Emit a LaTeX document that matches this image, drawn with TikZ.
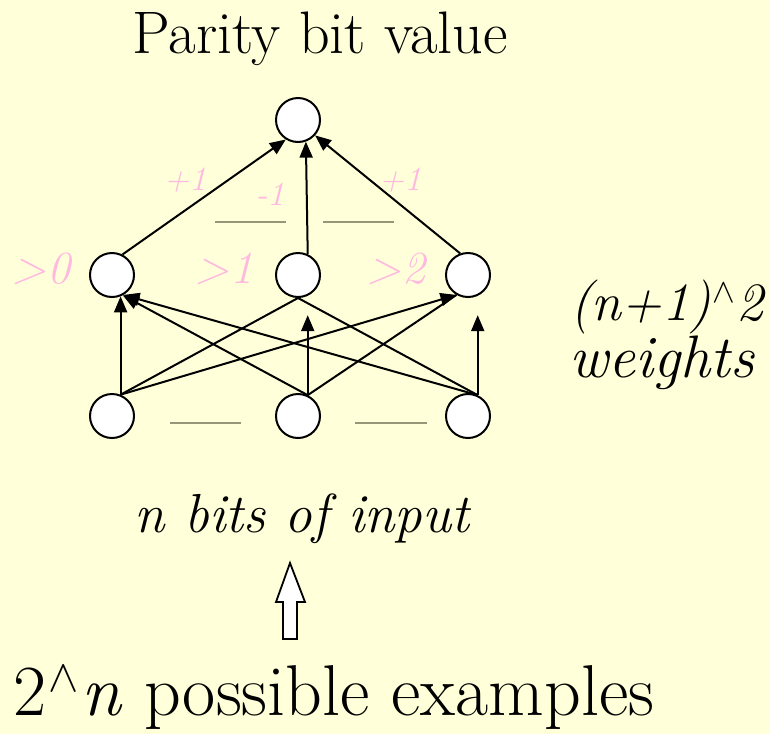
\documentclass[tikz,border=0pt]{standalone}
\usetikzlibrary{arrows.meta, calc}
\definecolor{bgyellow}{RGB}{255,255,217}
\definecolor{labelpink}{RGB}{255,185,225}
\definecolor{rulegrey}{RGB}{150,150,120}
\newcommand{\hatmark}{\kern0.03em\raisebox{0.33em}{\resizebox{0.42em}{!}{$\wedge$}}\kern0.03em}
\tikzset{
  unit/.style={circle, draw, line width=2pt, fill=white, minimum size=44pt, inner sep=0pt},
  wire/.style={line width=2pt},
  arr/.style={wire, -{Triangle[length=16pt, width=13pt]}},
  thresh/.style={text=labelpink, font=\fontsize{46}{52}\selectfont\itshape, anchor=base},
  weight/.style={text=labelpink, font=\fontsize{34}{40}\selectfont\itshape, anchor=base},
  caption/.style={font=\fontsize{60}{70}\selectfont, anchor=base},
  gap/.style={draw=rulegrey, line width=2pt}
}
\begin{document}
\begin{tikzpicture}[x=1pt, y=-1pt]
			\fill[bgyellow] (0, 0) rectangle (770, 734);
			\useasboundingbox (0, 0) rectangle (770, 734);
			\node[caption](Top) at (320, 53){Parity bit value};
			\node[unit](Out) at (298, 120){};
			\node[unit](H1) at (112, 275){};
			\node[unit](H2) at (298, 275){};
			\node[unit](H3) at (468, 275){};
			\node[unit](I1) at (112, 416){};
			\node[unit](I2) at (298, 416){};
			\node[unit](I3) at (468, 416){};
			\draw[arr] (H1.63) -- (Out.238);
			\draw[arr] (H2.65) -- (Out.290);
			\draw[arr] (H3.110) -- (Out.318);
			\draw[arr] (I1.68) -- (H1.292);
			\draw[wire] (I1.68) -- (H2.south);
			\draw[arr] (I1.68) -- (H3.240);
			\coordinate (T2) at ($(I2.65) + (0, -80)$);
			\coordinate (T3) at ($(I3.65) + (0, -80)$);
			\draw[arr] (I2.65) -- (T2);
			\draw[arr] (I2.65) -- (H1.298);
			\draw[wire] (I2.65) -- (H3.240);
			\draw[arr] (I3.65) -- (T3);
			\draw[arr] (I3.65) -- (H1.300);
			\draw[wire] (I3.65) -- (H2.south);
			\node[thresh](L0) at (41, 283){>0};
			\node[thresh](L1) at (224, 283){>1};
			\node[thresh](L2) at (396, 283){>2};
			\node[weight](W1) at (185, 190){+1};
			\node[weight](W2) at (270, 205){-1};
			\node[weight](W3) at (400, 190){+1};
			\draw[gap] (215, 222) -- (286, 222);
			\draw[gap] (323, 222) -- (394, 222);
			\draw[gap] (170, 423) -- (241, 423);
			\draw[gap] (355, 423) -- (427, 423);
			\node[caption, font=\fontsize{54}{64}\selectfont\itshape](Wa) at (667, 320){(n+1)\hatmark 2};
			\node[caption, font=\fontsize{60}{70}\selectfont\itshape](Wb) at (662, 377){weights};
			\node[caption, font=\fontsize{55}{64}\selectfont\itshape](In) at (302, 532){n bits of input};
			\draw[line width=1.8pt, fill=white] (290, 563) -- (305, 602) -- (297, 602) -- (297, 639) -- (283, 639) -- (283, 602) -- (276, 602) -- cycle;
			\node[caption, font=\fontsize{72}{80}\selectfont](Ex) at (334, 715){2\hatmark\textit{n} possible examples};
		\end{tikzpicture}
\end{document}
